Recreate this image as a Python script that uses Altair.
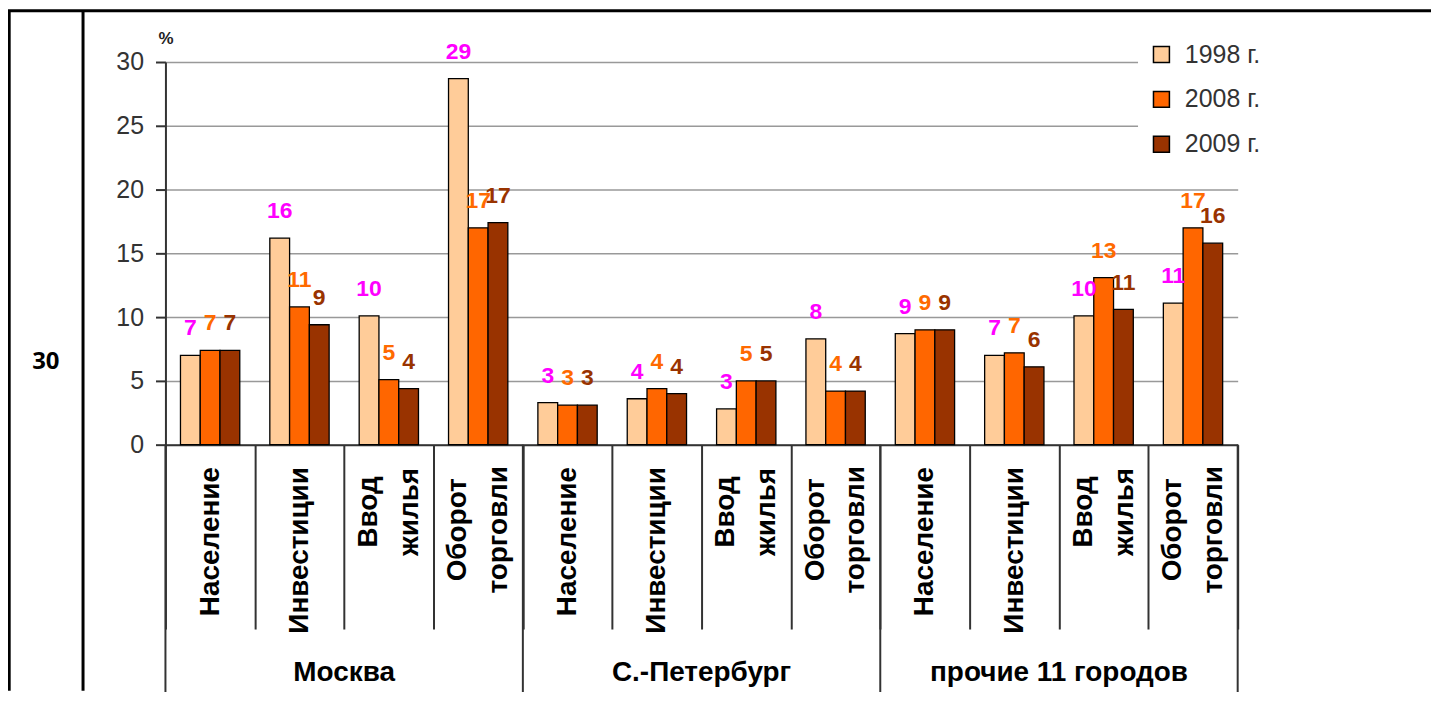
import altair as alt
import pandas as pd

# ---------------- data ----------------
CITIES = ["Москва", "С.-Петербург", "прочие 11 городов"]
INDICATORS = ["Население", "Инвестиции", "Ввод жилья", "Оборот торговли"]
YEARS = ["1998 г.", "2008 г.", "2009 г."]
V1998 = [7.0, 16.2, 10.1, 28.7, 3.3, 3.6, 2.8, 8.3, 8.7, 7.0, 10.1, 11.1]
V2008 = [7.4, 10.8, 5.1, 17.0, 3.1, 4.4, 5.0, 4.2, 9.0, 7.2, 13.1, 17.0]
V2009 = [7.4, 9.4, 4.4, 17.4, 3.1, 4.0, 5.0, 4.2, 9.0, 6.1, 10.6, 15.8]
Y_TICKS = [0, 5, 10, 15, 20, 25, 30]
CELL_NUMBER = ["30"]

# ---------------- styles ----------------
BAR_COLORS = ["#FFCC99", "#FF6600", "#993300"]
LABEL_COLORS = ["#FF00FF", "#FF6A00", "#993300"]
FONT = "Liberation Sans"

KEYS = [f"{c}|{i}" for c in CITIES for i in INDICATORS]
rows = []
for yr, vals in zip(YEARS, [V1998, V2008, V2009]):
    for k, v in zip(KEYS, vals):
        rows.append({"key": k, "year": yr, "value": v})
df = pd.DataFrame(rows)

city_df = pd.DataFrame({
    "city": CITIES,
    "start": [f"{c}|{INDICATORS[0]}" for c in CITIES],
    "mid": [f"{c}|{INDICATORS[1]}" for c in CITIES],
})
end_df = pd.DataFrame({"end": [KEYS[-1]]})
one = pd.DataFrame({"t": CELL_NUMBER})

W, H = 1076, 384
PAD_L, PAD_T, PAD_R, PAD_B = 158, 53, 194, 247

x_scale = alt.Scale(domain=KEYS, paddingInner=0, paddingOuter=0)
xo_scale = alt.Scale(domain=YEARS, paddingInner=0, paddingOuter=0.76)
y_scale = alt.Scale(domain=[0, 30], nice=False)

label_expr = ("(datum.label && indexof(datum.label,'|') >= 0) ? "
              "split(split(datum.label,'|')[1],' ') : ''")
t_vvod = "isString(datum.value) && indexof(datum.value,'Ввод') >= 0"
t_obor = "isString(datum.value) && indexof(datum.value,'Оборот') >= 0"
two_line_test = f"({t_vvod}) || ({t_obor})"

x_axis = alt.Axis(
    title=None, labelExpr=label_expr, labelAngle=270,
    labelAlign={"condition": {"test": two_line_test, "value": "center"}, "value": "right"},
    labelBaseline="middle", labelFontSize=28, labelFontWeight="bold",
    labelColor="black", labelFont=FONT, labelLineHeight=41,
    labelPadding={"condition": [{"test": t_vvod, "value": -118},
                                {"test": t_obor, "value": -100}], "value": -163},
    labelLimit=0, labelOverlap=False,
    labelOffset={"condition": {"test": two_line_test, "value": -20.5}, "value": 0},
    tickBand="extent", tickSize=185, tickColor="#333", tickWidth=2,
    domainColor="#333", domainWidth=2,
)
y_axis = alt.Axis(
    values=Y_TICKS, title="%", titleAngle=0, titleX=0, titleY=-24,
    titleFontSize=17, titleFontWeight="bold", titleAlign="center",
    titleBaseline="middle", titleFont=FONT, titleColor="#222",
    labelFontSize=25, labelColor="#333", labelFont=FONT, labelPadding=12,
    tickSize=10, tickColor="#333", tickWidth=2,
    domainColor="#333", domainWidth=2,
    grid=True, gridColor="#999", gridWidth=1.5,
)

legend = alt.Legend(
    title=None, orient="none", legendX=976, legendY=-31, padding=11,
    fillColor="white", symbolType="square", symbolSize=256,
    symbolStrokeColor="black", symbolStrokeWidth=1.5,
    labelFontSize=25, labelColor="#333", labelFont=FONT, labelOffset=11,
    rowPadding=19, direction="vertical",
)

base = alt.Chart(df)

bars = base.mark_bar(stroke="black", strokeWidth=1.3).encode(
    x=alt.X("key:N", scale=x_scale, axis=x_axis, title=None),
    xOffset=alt.XOffset("year:N", scale=xo_scale),
    y=alt.Y("value:Q", scale=y_scale, axis=y_axis),
    fill=alt.Fill("year:N", scale=alt.Scale(domain=YEARS, range=BAR_COLORS), legend=legend),
)

labels = base.mark_text(
    dy=-27, fontSize=23, fontWeight="bold", baseline="middle", align="center", font=FONT
).encode(
    x=alt.X("key:N", title=None),
    xOffset=alt.XOffset("year:N"),
    y=alt.Y("value:Q"),
    text=alt.Text("value:Q", format=".0f"),
    color=alt.Color("year:N", scale=alt.Scale(domain=YEARS, range=LABEL_COLORS), legend=None),
)

city_rules = alt.Chart(city_df).mark_rule(color="#333", strokeWidth=2).encode(
    x=alt.X("start:N", bandPosition=0, title=None),
    y=alt.value(H), y2=alt.value(H + 250),
)
end_rule = alt.Chart(end_df).mark_rule(color="#333", strokeWidth=2).encode(
    x=alt.X("end:N", bandPosition=1, title=None),
    y=alt.value(H), y2=alt.value(H + 250),
)
city_text = alt.Chart(city_df).mark_text(
    fontSize=28, fontWeight="bold", baseline="middle", align="center", font=FONT, color="black"
).encode(
    x=alt.X("mid:N", bandPosition=1, title=None),
    y=alt.value(613),
    text="city:N",
)

# table frame
left_line = alt.Chart(one).mark_rule(color="black", strokeWidth=3).encode(
    x=alt.value(-156.8), y=alt.value(-52), y2=alt.value(H + PAD_B))
div_line = alt.Chart(one).mark_rule(color="black", strokeWidth=3).encode(
    x=alt.value(-82.7), y=alt.value(-52), y2=alt.value(H + PAD_B))
top_line = alt.Chart(one).mark_rule(color="black", strokeWidth=3).encode(
    x=alt.value(-158), x2=alt.value(W + PAD_R), y=alt.value(-51.5))
cell_text = alt.Chart(one).mark_text(
    fontSize=24, fontWeight="bold", font="Noto Sans", color="black", baseline="middle"
).encode(x=alt.value(-120), y=alt.value(301), text="t:N")

chart = alt.layer(
    bars, labels, city_rules, end_rule, city_text,
    left_line, div_line, top_line, cell_text,
).properties(
    width=W, height=H,
    autosize=alt.AutoSizeParams(type="none"),
    padding={"left": PAD_L, "top": PAD_T, "right": PAD_R, "bottom": PAD_B},
    background="white",
).configure_view(stroke=None)

chart.save("out.html", embed_options={"renderer": "svg", "actions": False})
